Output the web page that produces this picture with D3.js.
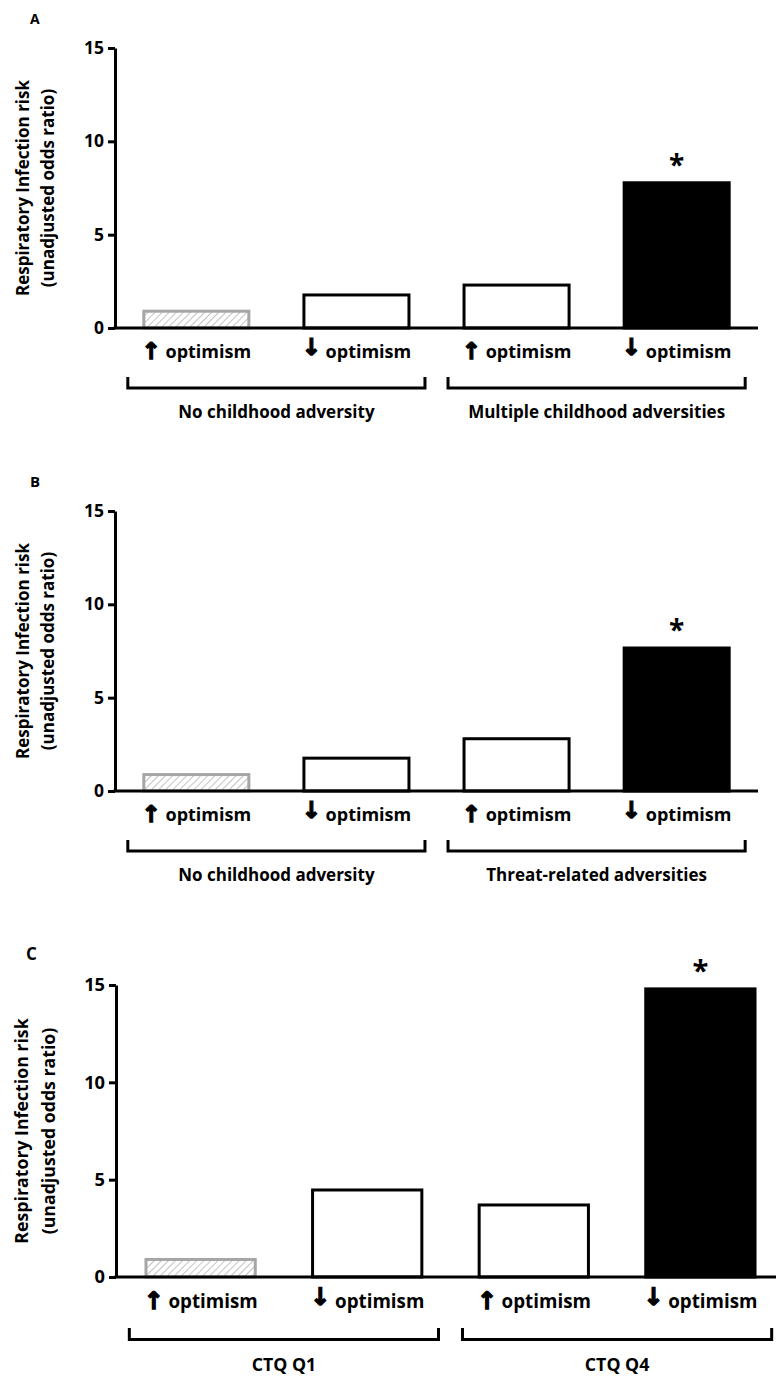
<!DOCTYPE html>
<html>
<head>
<meta charset="utf-8">
<script src="https://cdn.jsdelivr.net/npm/d3@7"></script>
<style>
  body { margin: 0; background: #fff; }
  text { font-family: "Open Sans", Lato, sans-serif; font-weight: bold; fill: #000; }
</style>
</head>
<body>
<div id="chart"></div>
<script>
// odds ratios, one array per panel
var panelLetters = ['A', 'B', 'C'];
var valuesA = [0.9, 1.77, 2.3, 7.78];
var valuesB = [0.88, 1.76, 2.8, 7.66];
var valuesC = [0.9, 4.47, 3.7, 14.8];
var groupsA = ['No childhood adversity', 'Multiple childhood adversities'];
var groupsB = ['No childhood adversity', 'Threat-related adversities'];
var groupsC = ['CTQ Q1', 'CTQ Q4'];
var arrows = ['\u2191', '\u2193', '\u2191', '\u2193'];
var barLabel = 'optimism';
var significant = [false, false, false, true];
var yTicks = [0, 5, 10, 15];
var yTitle = ['Respiratory Infection risk', '(unadjusted odds ratio)'];

var width = 776, height = 1376;

var svg = d3.select('#chart').append('svg')
  .attr('width', width)
  .attr('height', height);

// diagonal hatch for the reference bar
var defs = svg.append('defs');
defs.append('pattern')
  .attr('id', 'hatch')
  .attr('patternUnits', 'userSpaceOnUse')
  .attr('width', 5).attr('height', 5)
  .attr('patternTransform', 'rotate(45)')
  .append('line')
  .attr('x1', 0).attr('y1', 0).attr('x2', 0).attr('y2', 5)
  .attr('stroke', '#9a9a9a').attr('stroke-width', 1.2);

// layout of each panel (pixels)
var panels = [
  {letter: panelLetters[0], values: valuesA, groups: groupsA, top: 48, base: 328, x0: 115, x1: 758, k: 1,
   lx: 30, ly: 24, ls: 14, t1: 29, t2: 54},
  {letter: panelLetters[1], values: valuesB, groups: groupsB, top: 511, base: 791, x0: 115, x1: 758, k: 1,
   lx: 30, ly: 487, ls: 15, t1: 29, t2: 54},
  {letter: panelLetters[2], values: valuesC, groups: groupsC, top: 985, base: 1277, x0: 116, x1: 785, k: 1.043,
   lx: 26, ly: 960, ls: 17, t1: 28, t2: 55}
];

var drawPanel = function(p) {
  var g = svg.append('g');
  var k = p.k;

  var y = d3.scaleLinear().domain([0, 15]).range([p.base, p.top]);
  var x = d3.scaleBand().domain(d3.range(p.values.length))
    .range([p.x0, p.x1]).paddingInner(0.344).paddingOuter(0.18);

  // panel letter
  g.append('text')
    .attr('x', p.lx).attr('y', p.ly)
    .style('font-size', p.ls + 'px')
    .text(p.letter);

  // y axis title, two rotated lines
  var midY = (p.top + p.base) / 2;
  [p.t1, p.t2].forEach(function(tx, i){
    g.append('text')
      .attr('transform', 'translate(' + tx + ',' + midY + ') rotate(-90)')
      .attr('text-anchor', 'middle')
      .style('font-size', (17 * k) + 'px')
      .text(yTitle[i]);
  });

  // bars
  g.selectAll('rect.bar').data(p.values)
    .enter().append('rect')
    .attr('class', 'bar')
    .attr('x', function(d, i){ return x(i); })
    .attr('y', function(d){ return y(d); })
    .attr('width', x.bandwidth())
    .attr('height', function(d){ return y(0) - y(d); })
    .attr('fill', function(d, i){ return i === 0 ? 'url(#hatch)' : (i === 3 ? '#000' : '#fff'); })
    .attr('stroke', function(d, i){ return i === 0 ? '#a6a6a6' : '#000'; })
    .attr('stroke-width', 3);

  // significance stars
  g.selectAll('text.star').data(p.values)
    .enter().filter(function(d, i){ return significant[i]; })
    .append('text')
    .attr('class', 'star')
    .attr('x', function(d, i){ return x(3) + x.bandwidth() / 2; })
    .attr('y', function(d){ return y(d) - 8 * k; })
    .attr('text-anchor', 'middle')
    .style('font-size', (28 * k) + 'px')
    .text('*');

  // y axis
  var axis = g.append('g')
    .attr('transform', 'translate(' + p.x0 + ',0)')
    .call(d3.axisLeft(y).tickValues(yTicks).tickSize(7).tickSizeOuter(0).tickPadding(4));
  axis.selectAll('path, line').attr('stroke', '#000').attr('stroke-width', 3);
  axis.selectAll('text')
    .style('font-family', '"Open Sans", sans-serif')
    .style('font-size', (17.5 * k) + 'px')
    .style('font-weight', 'bold');

  // baseline
  g.append('line')
    .attr('x1', p.x0 - 1.5).attr('x2', p.x1)
    .attr('y1', y(0)).attr('y2', y(0))
    .attr('stroke', '#000').attr('stroke-width', 3);

  // bar labels
  var lab = g.selectAll('text.lab').data(arrows)
    .enter().append('text')
    .attr('class', 'lab')
    .attr('x', function(d, i){ return x(i) + x.bandwidth() / 2; })
    .attr('y', y(0) + 30 * k)
    .attr('text-anchor', 'middle')
    .style('font-size', (18 * k) + 'px');
  lab.append('tspan')
    .style('font-family', '"DejaVu Sans", sans-serif')
    .style('font-size', (23 * k) + 'px')
    .style('stroke', '#000')
    .style('stroke-width', 1.3)
    .attr('dy', function(d){ return d === '\u2193' ? -3 * k : 1 * k; })
    .text(function(d){ return d; });
  lab.append('tspan')
    .attr('dy', function(d){ return d === '\u2193' ? 3 * k : -1 * k; })
    .text(' ' + barLabel);

  // group brackets
  var pad = x.step() * 0.1;
  p.groups.forEach(function(name, gi){
    var a = x(gi * 2) - pad;
    var b = x(gi * 2 + 1) + x.bandwidth() + pad;
    var yb = y(0) + 60 * k;
    g.append('path')
      .attr('d', 'M' + a + ',' + (yb - 11 * k) + 'V' + yb + 'H' + b + 'V' + (yb - 11 * k))
      .attr('fill', 'none').attr('stroke', '#000').attr('stroke-width', 3);
    g.append('text')
      .attr('x', (a + b) / 2)
      .attr('y', y(0) + 90 * k)
      .attr('text-anchor', 'middle')
      .style('font-size', (17 * k) + 'px')
      .text(name);
  });
};

panels.forEach(drawPanel);
</script>
</body>
</html>
